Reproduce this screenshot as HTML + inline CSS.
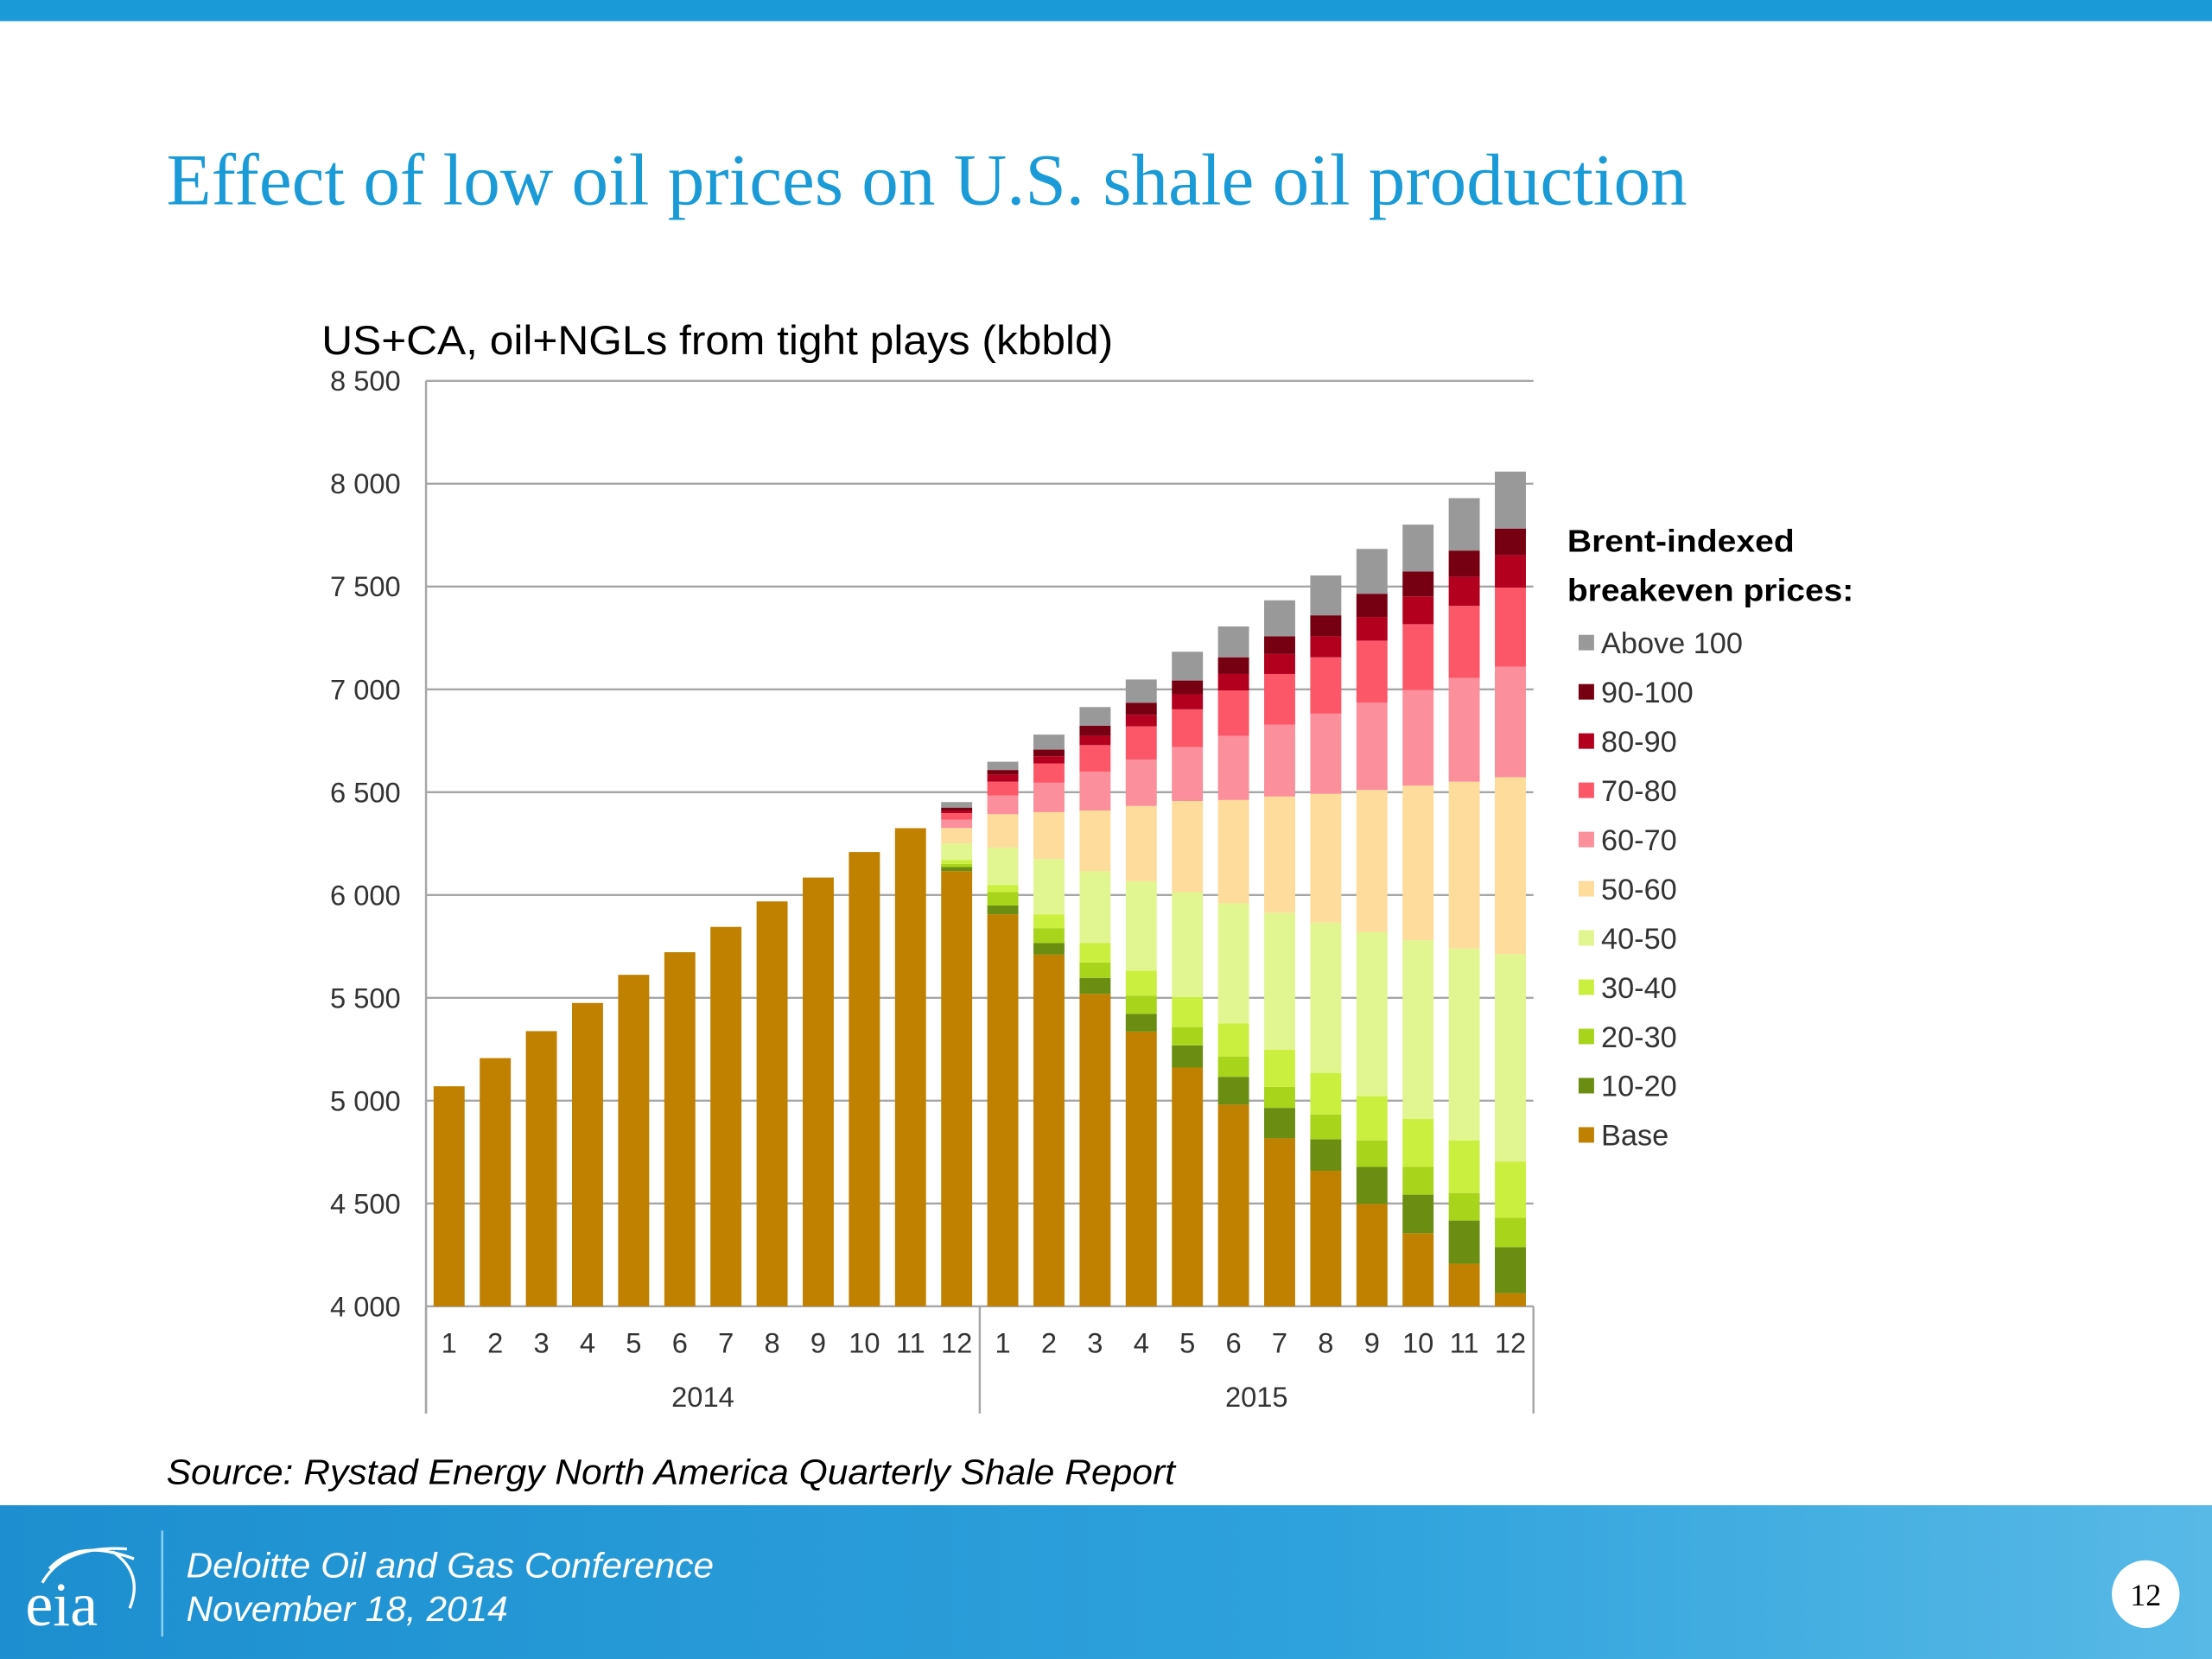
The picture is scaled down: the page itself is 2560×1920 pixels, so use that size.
<!DOCTYPE html>
<html><head><meta charset="utf-8"><style>
html,body{margin:0;padding:0;background:#fff;}
svg{display:block;}
</style></head><body>
<svg id="chart" xmlns="http://www.w3.org/2000/svg" width="2560" height="1920" viewBox="0 0 2560 1920">
<defs>
<linearGradient id="foot" x1="0" y1="0" x2="1" y2="0">
<stop offset="0" stop-color="#1d8fd0"/><stop offset="0.6" stop-color="#2ea2dc"/><stop offset="1" stop-color="#58b9e6"/>
</linearGradient>
</defs>
<g transform="scale(1.63265)">
<rect x="0" y="0" width="1568" height="15" fill="#1a9bd7"/>
<text x="118" y="145" font-family="'Liberation Serif',serif" font-size="52" fill="#1a9bd7" textLength="1078" lengthAdjust="spacingAndGlyphs">Effect of low oil prices on U.S. shale oil production</text>
<text x="228" y="251" font-family="'Liberation Sans',sans-serif" font-size="29" fill="#000" textLength="561" lengthAdjust="spacingAndGlyphs">US+CA, oil+NGLs from tight plays (kbbld)</text>
<g id="grid"></g>
<g id="bars"></g>
<g id="xaxis"></g>
<g id="legend"></g>
<text x="118" y="1052" font-family="'Liberation Sans',sans-serif" font-size="25" font-style="italic" fill="#000" textLength="715" lengthAdjust="spacingAndGlyphs">Source: Rystad Energy North America Quarterly Shale Report</text>
<rect x="0" y="1067" width="1568" height="109" fill="url(#foot)"/>
<g fill="none" stroke="#fff" stroke-width="2">
<path d="M30 1122 Q45 1095 90 1098" /><path d="M35 1112 Q55 1090 95 1105"/><path d="M80 1100 Q102 1115 92 1140"/>
<text x="18" y="1152" font-family="'Liberation Serif',serif" font-size="44" fill="#fff" stroke="none">eia</text>
</g>
<line x1="115" y1="1085" x2="115" y2="1160" stroke="#8fd0f0" stroke-width="1.5"/>
<text x="132" y="1118" font-family="'Liberation Sans',sans-serif" font-size="25" font-style="italic" fill="#fff" textLength="374" lengthAdjust="spacingAndGlyphs">Deloitte Oil and Gas Conference</text>
<text x="132" y="1149" font-family="'Liberation Sans',sans-serif" font-size="25" font-style="italic" fill="#fff" textLength="228" lengthAdjust="spacingAndGlyphs">November 18, 2014</text>
<circle cx="1521" cy="1130" r="24" fill="#fff"/>
<text x="1521" y="1138" text-anchor="middle" font-family="'Liberation Serif',serif" font-size="22" fill="#000">12</text>
</g>
</svg>
<script>
const yTicks = [4000,4500,5000,5500,6000,6500,7000,7500,8000,8500];
const yTickLabels = ["4 000","4 500","5 000","5 500","6 000","6 500","7 000","7 500","8 000","8 500"];
const months = ["1","2","3","4","5","6","7","8","9","10","11","12","1","2","3","4","5","6","7","8","9","10","11","12"];
const years = ["2014","2015"];
const seriesNames = ["Base","10-20","20-30","30-40","40-50","50-60","60-70","70-80","80-90","90-100","Above 100"];
const seriesColors = ["#c08000","#6b8e12","#a8d41c","#cbef3e","#e1f590","#fddc9c","#fb8f9b","#fb5769","#b3001f","#760012","#999999"];
const base   = [5070,5207,5338,5475,5612,5722,5845,5969,6085,6209,6325,6116,5906,5710,5519,5336,5161,4981,4817,4659,4498,4355,4207,4064];
const s10_20 = [0,0,0,0,0,0,0,0,0,0,0,20,43,56,78,86,108,135,148,153,180,188,210,224];
const s20_30 = [0,0,0,0,0,0,0,0,0,0,0,15,65,73,75,89,89,99,102,121,129,135,134,142];
const s30_40 = [0,0,0,0,0,0,0,0,0,0,0,20,35,67,94,121,145,161,180,202,215,233,256,274];
const s40_50 = [0,0,0,0,0,0,0,0,0,0,0,80,182,269,350,435,511,584,667,731,798,869,933,1009];
const s50_60 = [0,0,0,0,0,0,0,0,0,0,0,75,162,228,295,366,443,502,565,626,691,752,811,860];
const s60_70 = [0,0,0,0,0,0,0,0,0,0,0,40,91,143,189,226,263,312,349,390,424,465,505,537];
const s70_80 = [0,0,0,0,0,0,0,0,0,0,0,32,67,94,129,161,183,221,247,274,302,320,350,385];
const s80_90 = [0,0,0,0,0,0,0,0,0,0,0,13,35,35,45,56,73,80,97,102,115,135,142,158];
const s90_100= [0,0,0,0,0,0,0,0,0,0,0,14,22,32,49,59,67,81,86,102,113,121,127,129];
const sAbove = [0,0,0,0,0,0,0,0,0,0,0,27,40,73,91,113,140,150,175,194,218,228,255,277];

const NS="http://www.w3.org/2000/svg";
const PL=302, PR=1087, PT=270, PB=926, YMIN=4000, YMAX=8500;
const y = v => PB - (v-YMIN)/(YMAX-YMIN)*(PB-PT);
const band = (PR-PL)/months.length;
const x = i => PL + band*i;
const BW = 22;
function mk(tag, attrs, parent){const e=document.createElementNS(NS,tag);for(const k in attrs)e.setAttribute(k,attrs[k]);parent.appendChild(e);return e;}

const grid=document.getElementById('grid');
yTicks.forEach((t,i)=>{
  const l=mk('line',{x1:PL,x2:PR,y1:y(t),y2:y(t),stroke:'#a6a6a6','stroke-width':1.5},grid);
  
  
  const tx=mk('text',{x:284,y:y(t)+7,'text-anchor':'end','font-family':"'Liberation Sans',sans-serif",'font-size':20,fill:'#333'},grid);
  tx.textContent=yTickLabels[i];
  
  
});
const ax=mk('line',{x1:PL,x2:PL,y1:PT,y2:1002,stroke:'#a6a6a6','stroke-width':1.5},grid);



const layers=[base,s10_20,s20_30,s30_40,s40_50,s50_60,s60_70,s70_80,s80_90,s90_100,sAbove];
const bars=document.getElementById('bars');
months.forEach((m,i)=>{
  let cum=YMIN;
  layers.forEach((arr,k)=>{
    const top = k===0 ? arr[i] : cum+arr[i];
    if(top>cum){
      const r=mk('rect',{x:x(i)+(band-BW)/2,y:y(top),width:BW,height:y(cum)-y(top),fill:seriesColors[k]},bars);
      
      
    }
    cum=top;
  });
});

const xa=document.getElementById('xaxis');
months.forEach((m,i)=>{
  const t=mk('text',{x:x(i)+band/2,y:959,'text-anchor':'middle','font-family':"'Liberation Sans',sans-serif",'font-size':20,fill:'#333'},xa);
  t.textContent=m;
  
  
});
years.forEach((yr,j)=>{
  const t=mk('text',{x:x(j*12+6),y:997,'text-anchor':'middle','font-family':"'Liberation Sans',sans-serif",'font-size':20,fill:'#333'},xa);
  t.textContent=yr;
  
  
});
[0,12,24].forEach(i=>{
  const l=mk('line',{x1:x(i),x2:x(i),y1:PB,y2:1002,stroke:'#a6a6a6','stroke-width':1.5},xa);
  
  
});

const lg=document.getElementById('legend');
const lt1=mk('text',{x:1111,y:391,'font-family':"'Liberation Sans',sans-serif",'font-size':22,'font-weight':'bold',fill:'#000',textLength:161,lengthAdjust:'spacingAndGlyphs'},lg);
lt1.textContent='Brent-indexed';


const lt2=mk('text',{x:1111,y:426,'font-family':"'Liberation Sans',sans-serif",'font-size':22,'font-weight':'bold',fill:'#000',textLength:203,lengthAdjust:'spacingAndGlyphs'},lg);
lt2.textContent='breakeven prices:';


for(let k=seriesNames.length-1;k>=0;k--){
  const row=seriesNames.length-1-k;
  const yy=456+row*34.9;
  const sq=mk('rect',{x:1119,y:yy-6,width:11,height:11,fill:seriesColors[k]},lg);
  
  
  const t=mk('text',{x:1135,y:yy+7,'font-family':"'Liberation Sans',sans-serif",'font-size':21,fill:'#333'},lg);
  t.textContent=seriesNames[k];
  
  
}
</script>
</body></html>
